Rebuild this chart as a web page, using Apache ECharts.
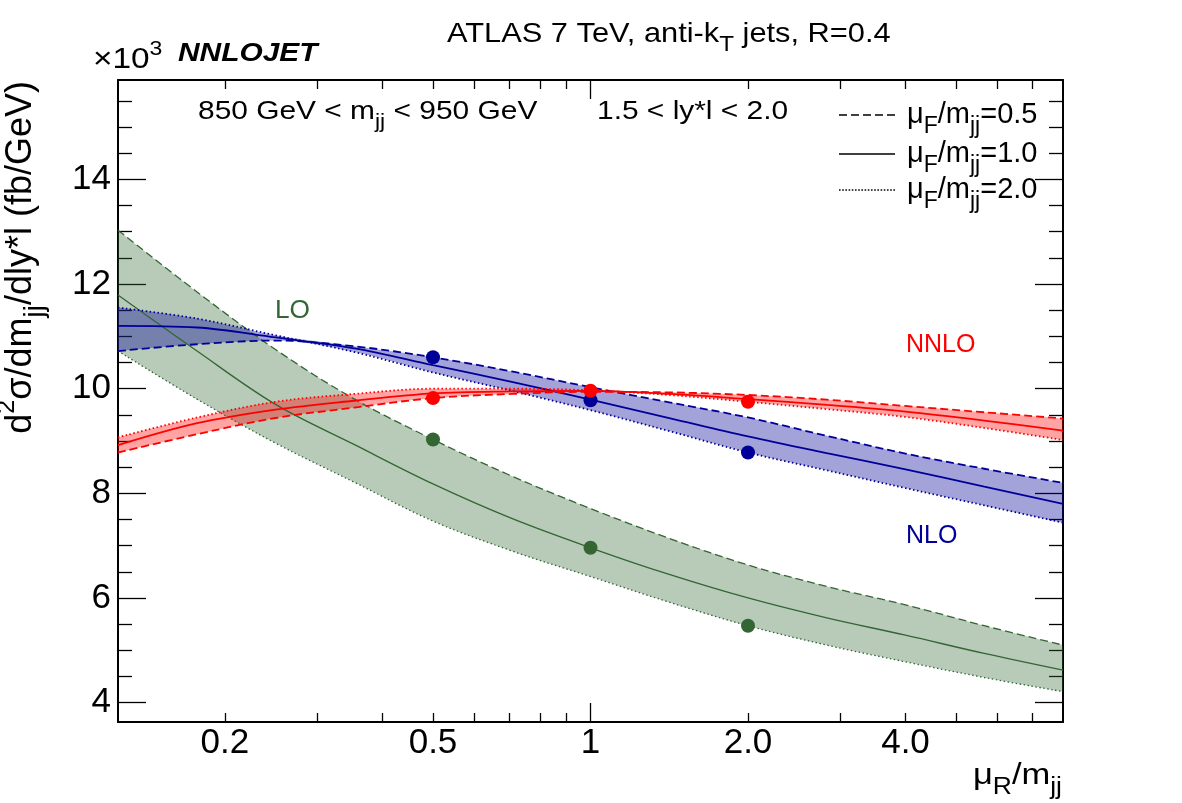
<!DOCTYPE html>
<html>
<head>
<meta charset="utf-8">
<title>NNLOJET scale dependence</title>
<script src="https://cdn.jsdelivr.net/npm/echarts@6.0.0/dist/echarts.min.js"></script>
<style>
  html, body { margin: 0; padding: 0; background: #fff; }
  #chart { width: 1182px; height: 803px; }
</style>
</head>
<body>
<div id="chart"></div>
<script>
// mu_R / m_jj sample points (half steps in log2)
var muR = [0.125, 0.177, 0.25, 0.354, 0.5, 0.707, 1, 1.414, 2, 2.828, 4, 5.657, 8];

// cross section, units of 10^3 fb/GeV, one array per mu_F/m_jj choice
var loF05 = [13.03, 11.85, 10.75, 9.80, 9.03, 8.33, 7.71, 7.14, 6.63, 6.22, 5.87, 5.47, 5.10];
var loF10 = [11.79, 10.72, 9.70, 8.93, 8.18, 7.52, 6.96, 6.45, 6.00, 5.62, 5.29, 4.94, 4.62];
var loF20 = [10.72, 9.80, 8.96, 8.21, 7.47, 6.90, 6.41, 5.92, 5.47, 5.10, 4.78, 4.48, 4.21];

var nloF05 = [10.72, 10.85, 10.92, 10.81, 10.60, 10.33, 10.03, 9.74, 9.45, 9.10, 8.76, 8.47, 8.20];
var nloF10 = [11.20, 11.17, 10.98, 10.77, 10.45, 10.13, 9.79, 9.44, 9.09, 8.77, 8.46, 8.13, 7.80];
var nloF20 = [11.55, 11.34, 11.02, 10.70, 10.31, 9.96, 9.59, 9.19, 8.78, 8.44, 8.10, 7.77, 7.44];

var nnloF05 = [8.78, 9.13, 9.44, 9.64, 9.82, 9.90, 9.94, 9.93, 9.88, 9.79, 9.67, 9.55, 9.43];
var nnloF10 = [8.92, 9.34, 9.60, 9.77, 9.91, 9.95, 9.96, 9.90, 9.80, 9.69, 9.56, 9.39, 9.20];
var nnloF20 = [9.07, 9.45, 9.75, 9.90, 10.00, 10.00, 9.97, 9.88, 9.75, 9.61, 9.46, 9.25, 9.02];

// points with mu_F = mu_R
var dotMuR = [0.5, 1, 2];
var loDots = [9.03, 6.96, 5.47];
var nloDots = [10.60, 9.78, 8.78];
var nnloDots = [9.82, 9.96, 9.75];

// axis ticks and labels
var xMinorTicks = [0.2, 0.3, 0.4, 0.5, 0.6, 0.7, 0.8, 0.9, 2, 3, 4, 5, 6, 7];
var xMajorTicks = [1];
var xLabelValues = [0.2, 0.5, 1, 2, 4];
var xLabelText = ['0.2', '0.5', '1', '2.0', '4.0'];
var yMajorTicks = [4, 6, 8, 10, 12, 14];
var yMinorTicks = [4.5, 5, 5.5, 6.5, 7, 7.5, 8.5, 9, 9.5, 10.5, 11, 11.5, 12.5, 13, 13.5, 14.5, 15, 15.5];

var legendKeys = ['muF05', 'muF10', 'muF20'];
var legendValues = ['0.5', '1.0', '2.0'];

var FONT = "'Liberation Sans', Arial, Helvetica, sans-serif";
var GREEN = '#336633', BLUE = '#000099', RED = '#ff0000';
var SMOOTH = 0.35;
var DASH = [8, 4], DOT = [1.5, 2.5];

function pairs(xs, ys) {
    return xs.map(function (x, i) { return [x, ys[i]]; });
}

function rich(size, extra) {
    var r = {
        n: { fontSize: size, fontFamily: FONT, lineHeight: size + 6 },
        s: { fontSize: Math.round(size * 0.78), fontFamily: FONT, lineHeight: size + 6, padding: [Math.round(size * 0.8), 0, 0, 0] },
        u: { fontSize: Math.round(size * 0.7), fontFamily: FONT, lineHeight: size + 6, padding: [0, 0, Math.round(size * 0.75), 0] }
    };
    if (extra) {
        for (var k in extra) r[k] = extra[k];
    }
    return r;
}

// band = envelope of the three mu_F curves, drawn as lower edge + stacked width.
// value is put in the first dimension so the stack runs along y.
function bandSeries(name, a, b, c, color) {
    var low = a.map(function (v, i) { return Math.min(v, b[i], c[i]); });
    var span = a.map(function (v, i) { return Math.max(v, b[i], c[i]) - low[i]; });
    var common = {
        type: 'line', stack: name, encode: { x: 1, y: 0 },
        symbol: 'none', smooth: SMOOTH, silent: true, z: 1,
        lineStyle: { opacity: 0 }
    };
    var base = Object.assign({ name: name + ' base', data: pairs(low, muR) }, common);
    var band = Object.assign({ name: name + ' band', data: pairs(span, muR), areaStyle: { color: color, opacity: 1 } }, common);
    return [base, band];
}

function curve(key, ys, color, width, type) {
    return {
        type: 'line', name: key, data: pairs(muR, ys),
        symbol: 'none', smooth: SMOOTH, z: 2,
        itemStyle: { color: color },
        lineStyle: { color: color, width: width, type: type }
    };
}

function dots(name, ys, color) {
    return {
        type: 'scatter', name: name, data: pairs(dotMuR, ys),
        symbolSize: 14, z: 3, itemStyle: { color: color, opacity: 1 }
    };
}

function legendIcon(kind) {
    var d = '';
    var i;
    if (kind === 'dash') {
        for (i = 0; i < 5; i++) d += 'M' + (i * 12) + ',0h8v1.6h-8z';
    } else if (kind === 'dot') {
        for (i = 0; i < 18; i++) d += 'M' + (i * 3.2).toFixed(1) + ',0h1.6v1.6h-1.6z';
    } else {
        d = 'M0,0h56v1.6h-56z';
    }
    return 'path://' + d;
}

function makeLegend(idx, top, icon) {
    return {
        left: 839, top: top, padding: 0, orient: 'horizontal',
        itemWidth: 56, itemHeight: 30, selectedMode: false,
        data: [{ name: legendKeys[idx], icon: icon, itemStyle: { color: '#000', borderWidth: 0 } }],
        formatter: function () {
            return '{g|}{n|μ}{s|F}{n|/m}{s|jj}{n|=' + legendValues[idx] + '}';
        },
        textStyle: { color: '#000', rich: rich(29, { g: { width: 7 } }) }
    };
}

function xAxisDef(pos, ticks, len, showLine, showLabel) {
    return {
        type: 'log', logBase: 10, min: 0.125, max: 8, position: pos,
        axisLine: { show: showLine, onZero: false, lineStyle: { color: '#000', width: 2 } },
        axisTick: { show: true, inside: true, length: len, customValues: ticks, lineStyle: { color: '#000', width: 1.3 } },
        minorTick: { show: false },
        splitLine: { show: false },
        axisLabel: {
            show: showLabel, customValues: xLabelValues, margin: 4,
            fontSize: 35, fontFamily: FONT, color: '#000',
            formatter: function (v) {
                var best = 0;
                for (var i = 1; i < xLabelValues.length; i++) {
                    if (Math.abs(Math.log(xLabelValues[i] / v)) < Math.abs(Math.log(xLabelValues[best] / v))) best = i;
                }
                return xLabelText[best];
            }
        }
    };
}

function yAxisDef(pos, ticks, len, showLine, showLabel) {
    return {
        type: 'value', min: 3.63, max: 15.9, position: pos,
        axisLine: { show: showLine, onZero: false, lineStyle: { color: '#000', width: 2 } },
        axisTick: { show: true, inside: true, length: len, customValues: ticks, lineStyle: { color: '#000', width: 1.3 } },
        splitLine: { show: false },
        axisLabel: {
            show: showLabel, customValues: yMajorTicks, margin: 7,
            fontSize: 35, fontFamily: FONT, color: '#000'
        }
    };
}

function label(x, y, text, size, color, opts) {
    opts = opts || {};
    return {
        type: 'text', x: x, y: y, z: 10,
        rotation: opts.rotation || 0,
        scaleX: opts.scaleX || 1, scaleY: opts.scaleY || 1,
        style: {
            text: text, fill: color,
            rich: rich(size, opts.rich),
            align: opts.align || 'left', textAlign: opts.align || 'left',
            verticalAlign: 'middle', textVerticalAlign: 'middle'
        }
    };
}

var series = []
    .concat(bandSeries('LO', loF05, loF10, loF20, 'rgba(51,102,51,0.35)'))
    .concat(bandSeries('NLO', nloF05, nloF10, nloF20, 'rgba(0,0,153,0.36)'))
    .concat(bandSeries('NNLO', nnloF05, nnloF10, nnloF20, 'rgba(255,0,0,0.36)'))
    .concat([
        curve('muF05', loF05, GREEN, 1.3, DASH),
        curve('muF10', loF10, GREEN, 1.3, 'solid'),
        curve('muF20', loF20, GREEN, 1.3, DOT),
        curve('muF05', nloF05, BLUE, 1.8, DASH),
        curve('muF10', nloF10, BLUE, 1.8, 'solid'),
        curve('muF20', nloF20, BLUE, 1.8, DOT),
        curve('muF05', nnloF05, RED, 1.8, DASH),
        curve('muF10', nnloF10, RED, 1.8, 'solid'),
        curve('muF20', nnloF20, RED, 1.8, DOT),
        dots('LO points', loDots, GREEN),
        dots('NLO points', nloDots, BLUE),
        dots('NNLO points', nnloDots, RED)
    ]);

var chart = echarts.init(document.getElementById('chart'), null, { renderer: 'canvas' });

chart.setOption({
    animation: false,
    backgroundColor: '#fff',
    grid: { left: 118, right: 119, top: 80, bottom: 81, containLabel: false },
    legend: [
        makeLegend(0, 92, legendIcon('dash')),
        makeLegend(1, 131, legendIcon('solid')),
        makeLegend(2, 167, legendIcon('dot'))
    ],
    xAxis: [
        xAxisDef('bottom', xMinorTicks, 9, true, true),
        xAxisDef('bottom', xMajorTicks, 19, false, false),
        xAxisDef('top', xMinorTicks, 9, true, false),
        xAxisDef('top', xMajorTicks, 19, false, false)
    ],
    yAxis: [
        yAxisDef('left', yMajorTicks, 28, true, true),
        yAxisDef('left', yMinorTicks, 14, false, false),
        yAxisDef('right', yMajorTicks, 28, true, false),
        yAxisDef('right', yMinorTicks, 14, false, false)
    ],
    series: series,
    graphic: [
        label(447, 34, '{n|ATLAS 7 TeV, anti-k}{s|T}{n| jets, R=0.4}', 28, '#000', { scaleX: 1.1 }),
        label(93, 60, '{n|×10}{u|3}', 29, '#000', { scaleX: 1.15 }),
        label(178, 54, '{b|NNLOJET}', 26, '#000', {
            scaleX: 1.15,
            rich: { b: { fontSize: 26, fontFamily: FONT, fontWeight: 'bold', fontStyle: 'italic' } }
        }),
        label(198, 112, '{n|850 GeV < m}{s|jj}{n| < 950 GeV}', 26, '#000', { scaleX: 1.15 }),
        label(597, 112, '{n|1.5 < ly*l < 2.0}', 26, '#000', { scaleX: 1.15 }),
        label(275, 311, '{n|LO}', 25, GREEN, { scaleX: 1.05 }),
        label(906, 345, '{n|NNLO}', 25, RED),
        label(906, 536, '{n|NLO}', 25, BLUE),
        label(1062, 776, '{n|μ}{s|R}{n|/m}{s|jj}', 30, '#000', { align: 'right', scaleX: 1.15 }),
        label(21, 81, '{n|d}{u|2}{n|σ/dm}{s|jj}{n|/dly*l (fb/GeV)}', 36, '#000', { align: 'right', rotation: Math.PI / 2 })
    ]
});
</script>
</body>
</html>
